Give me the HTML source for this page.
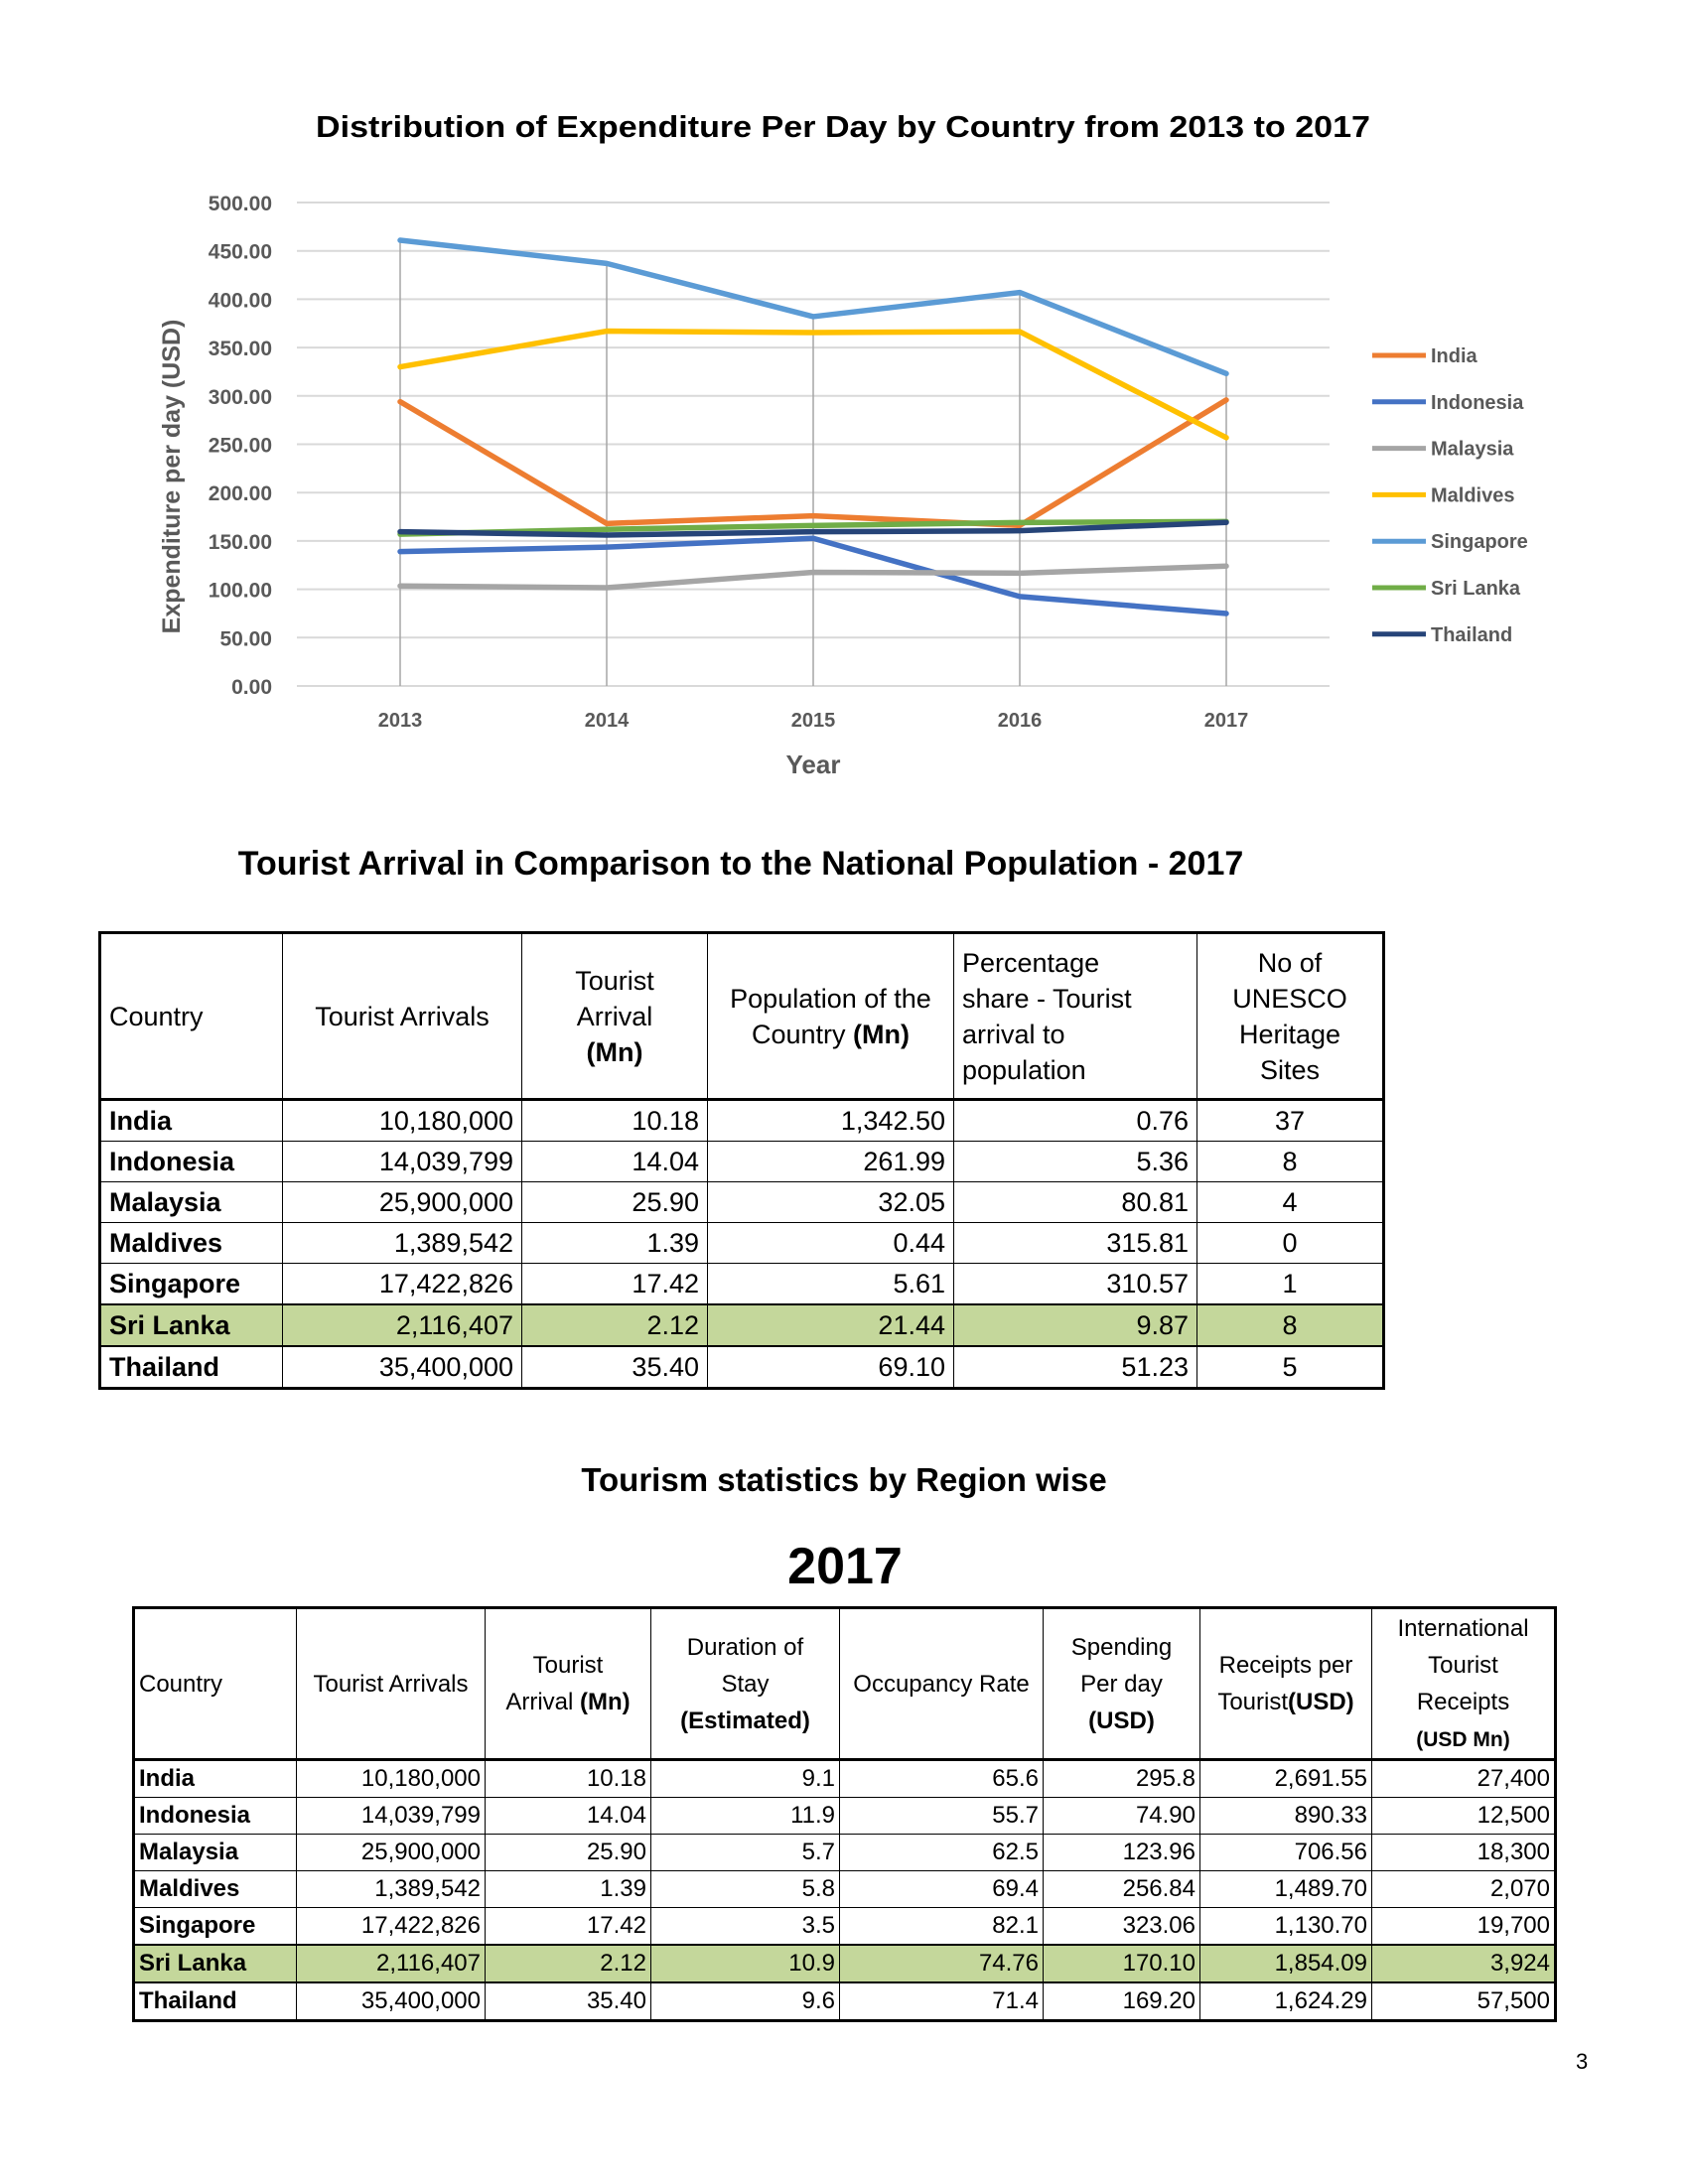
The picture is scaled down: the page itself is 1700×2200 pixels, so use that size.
<!DOCTYPE html>
<html><head><meta charset="utf-8">
<style>
body{margin:0;background:#fff;}
#page{position:relative;width:1700px;height:2200px;background:#fff;overflow:hidden;font-family:"Liberation Sans",sans-serif;}
.ttl{position:absolute;left:0;width:1700px;text-align:center;font-weight:bold;color:#000;}
table{position:absolute;border-collapse:collapse;table-layout:fixed;font-family:"Liberation Sans",sans-serif;color:#000;}
td{border:1.5px solid #000;padding:0 8px;white-space:nowrap;overflow:hidden;}
.t1{left:99px;top:938px;font-size:27px;border:3px solid #000;}
.t1 td{height:40px;}
.t1 tr.h td{height:165px;line-height:36px;}
.t2{left:133px;top:1618px;font-size:24px;border:3px solid #000;}
.t2 td{height:36px;padding:0 4px;}
.t2 tr.h td{height:150px;line-height:37px;}
tr.h td{border-bottom:3px solid #000;white-space:nowrap;}
.c{text-align:center}.r{text-align:right}.l{text-align:left}.b{font-weight:bold}
tr.sl td{background:#c4d79b;border-top:2.5px solid #000;border-bottom:2.5px solid #000;}
</style></head>
<body>
<div id="page">
<svg id="chart" width="1700" height="800" style="position:absolute;left:0;top:0" xmlns="http://www.w3.org/2000/svg">
<text x="849" y="138" text-anchor="middle" font-family="Liberation Sans, sans-serif" font-weight="bold" font-size="31" textLength="1062" lengthAdjust="spacingAndGlyphs" fill="#000">Distribution of Expenditure Per Day by Country from 2013 to 2017</text>
<g id="grid"></g><g id="drops"></g><g id="lines"></g><g id="axes"></g><g id="legend"></g>
<text transform="translate(181,480) rotate(-90)" text-anchor="middle" font-family="Liberation Sans, sans-serif" font-weight="bold" font-size="25" fill="#595959">Expenditure per day (USD)</text>
<text x="819" y="779" text-anchor="middle" font-family="Liberation Sans, sans-serif" font-weight="bold" font-size="26" fill="#595959">Year</text>
</svg>
<script>
const categories=["2013","2014","2015","2016","2017"];
const seriesNames=["India","Indonesia","Malaysia","Maldives","Singapore","Sri Lanka","Thailand"];
const seriesColors=["#ED7D31","#4472C4","#A5A5A5","#FFC000","#5B9BD5","#70AD47","#264478"];
const india=[294,168,176,166,295.8];
const indonesia=[139,143.6,152.7,92.5,74.9];
const malaysia=[103.5,101.6,117.6,116.7,123.96];
const maldives=[330,367,365.5,366.5,256.84];
const singapore=[461,437,382,407,323.06];
const sriLanka=[157,162,166,169,170.1];
const thailand=[159.5,156,159.5,160.5,169.2];
const yTicks=[0,50,100,150,200,250,300,350,400,450,500];
const NS="http://www.w3.org/2000/svg";
const allSeries=[india,indonesia,malaysia,maldives,singapore,sriLanka,thailand];
function yScale(v){return 691-v*(487/500);}
function xScale(i){return 403+i*208;}
function mk(tag,attrs,parent){const e=document.createElementNS(NS,tag);for(const k in attrs)e.setAttribute(k,attrs[k]);parent.appendChild(e);return e;}
const grid=document.getElementById('grid'),drops=document.getElementById('drops'),lines=document.getElementById('lines'),axes=document.getElementById('axes'),legend=document.getElementById('legend');
yTicks.forEach(t=>{
  const l=mk('line',{x1:299,x2:1339,y1:yScale(t),y2:yScale(t),stroke:'#d9d9d9','stroke-width':2},grid);
  
  
  const tx=mk('text',{x:274,y:yScale(t)+8,'text-anchor':'end','font-family':'Liberation Sans, sans-serif','font-weight':'bold','font-size':21,fill:'#595959'},axes);
  tx.textContent=t.toFixed(2);
  
  
});
categories.forEach((c,i)=>{
  let mx=Math.max(...allSeries.map(s=>s[i]));
  const d=mk('line',{x1:xScale(i),x2:xScale(i),y1:yScale(mx),y2:yScale(0),stroke:'#a6a6a6','stroke-width':1.5},drops);
  
  
  const tx=mk('text',{x:xScale(i),y:732,'text-anchor':'middle','font-family':'Liberation Sans, sans-serif','font-weight':'bold','font-size':20,fill:'#595959'},axes);
  tx.textContent=c;
  
  
});
allSeries.forEach((s,k)=>{
  const pts=s.map((v,i)=>xScale(i)+','+yScale(v)).join(' ');
  const p=mk('polyline',{points:pts,fill:'none',stroke:seriesColors[k],'stroke-width':5.5,'stroke-linejoin':'round','stroke-linecap':'round'},lines);
  
  
  const ly=358+k*46.8;
  const g=mk('g',{},legend);
  
  
  mk('line',{x1:1382,x2:1436,y1:ly,y2:ly,stroke:seriesColors[k],'stroke-width':5},g);
  const t=mk('text',{x:1441,y:ly+7,'font-family':'Liberation Sans, sans-serif','font-weight':'bold','font-size':20,fill:'#595959'},g);
  t.textContent=seriesNames[k];
});
</script>

<div class="ttl" style="top:851px;font-size:34px;left:-104px;">Tourist Arrival in Comparison to the National Population - 2017</div>
<table class="t1">
<colgroup><col style="width:184px"><col style="width:241px"><col style="width:187px"><col style="width:248px"><col style="width:245px"><col style="width:188px"></colgroup>
<tr class="h"><td class="l">Country</td><td class="c">Tourist Arrivals</td><td class="c">Tourist<br>Arrival<br><b>(Mn)</b></td><td class="c">Population of the<br>Country <b>(Mn)</b></td><td class="l">Percentage<br>share - Tourist<br>arrival to<br>population</td><td class="c">No of<br>UNESCO<br>Heritage<br>Sites</td></tr>
<tr><td class="b">India</td><td class="r">10,180,000</td><td class="r">10.18</td><td class="r">1,342.50</td><td class="r">0.76</td><td class="c">37</td></tr>
<tr><td class="b">Indonesia</td><td class="r">14,039,799</td><td class="r">14.04</td><td class="r">261.99</td><td class="r">5.36</td><td class="c">8</td></tr>
<tr><td class="b">Malaysia</td><td class="r">25,900,000</td><td class="r">25.90</td><td class="r">32.05</td><td class="r">80.81</td><td class="c">4</td></tr>
<tr><td class="b">Maldives</td><td class="r">1,389,542</td><td class="r">1.39</td><td class="r">0.44</td><td class="r">315.81</td><td class="c">0</td></tr>
<tr><td class="b">Singapore</td><td class="r">17,422,826</td><td class="r">17.42</td><td class="r">5.61</td><td class="r">310.57</td><td class="c">1</td></tr>
<tr class="sl"><td class="b">Sri Lanka</td><td class="r">2,116,407</td><td class="r">2.12</td><td class="r">21.44</td><td class="r">9.87</td><td class="c">8</td></tr>
<tr><td class="b">Thailand</td><td class="r">35,400,000</td><td class="r">35.40</td><td class="r">69.10</td><td class="r">51.23</td><td class="c">5</td></tr>
</table>

<div class="ttl" style="top:1472px;font-size:33px;left:0px;">Tourism statistics by Region wise</div>
<div class="ttl" style="top:1548px;font-size:52px;left:1px;">2017</div>
<table class="t2">
<colgroup><col style="width:164px"><col style="width:190px"><col style="width:167px"><col style="width:190px"><col style="width:205px"><col style="width:158px"><col style="width:173px"><col style="width:185px"></colgroup>
<tr class="h"><td class="l">Country</td><td class="c">Tourist Arrivals</td><td class="c">Tourist<br>Arrival <b>(Mn)</b></td><td class="c">Duration of<br>Stay<br><b>(Estimated)</b></td><td class="c">Occupancy Rate</td><td class="c">Spending<br>Per day<br><b>(USD)</b></td><td class="c">Receipts per<br>Tourist<b>(USD)</b></td><td class="c">International<br>Tourist<br>Receipts<br><b style="font-size:21px">(USD Mn)</b></td></tr>
<tr><td class="b">India</td><td class="r">10,180,000</td><td class="r">10.18</td><td class="r">9.1</td><td class="r">65.6</td><td class="r">295.8</td><td class="r">2,691.55</td><td class="r">27,400</td></tr>
<tr><td class="b">Indonesia</td><td class="r">14,039,799</td><td class="r">14.04</td><td class="r">11.9</td><td class="r">55.7</td><td class="r">74.90</td><td class="r">890.33</td><td class="r">12,500</td></tr>
<tr><td class="b">Malaysia</td><td class="r">25,900,000</td><td class="r">25.90</td><td class="r">5.7</td><td class="r">62.5</td><td class="r">123.96</td><td class="r">706.56</td><td class="r">18,300</td></tr>
<tr><td class="b">Maldives</td><td class="r">1,389,542</td><td class="r">1.39</td><td class="r">5.8</td><td class="r">69.4</td><td class="r">256.84</td><td class="r">1,489.70</td><td class="r">2,070</td></tr>
<tr><td class="b">Singapore</td><td class="r">17,422,826</td><td class="r">17.42</td><td class="r">3.5</td><td class="r">82.1</td><td class="r">323.06</td><td class="r">1,130.70</td><td class="r">19,700</td></tr>
<tr class="sl"><td class="b">Sri Lanka</td><td class="r">2,116,407</td><td class="r">2.12</td><td class="r">10.9</td><td class="r">74.76</td><td class="r">170.10</td><td class="r">1,854.09</td><td class="r">3,924</td></tr>
<tr><td class="b">Thailand</td><td class="r">35,400,000</td><td class="r">35.40</td><td class="r">9.6</td><td class="r">71.4</td><td class="r">169.20</td><td class="r">1,624.29</td><td class="r">57,500</td></tr>
</table>
<div style="position:absolute;left:1587px;top:2064px;font-size:22px;">3</div>
</div>
</body></html>
